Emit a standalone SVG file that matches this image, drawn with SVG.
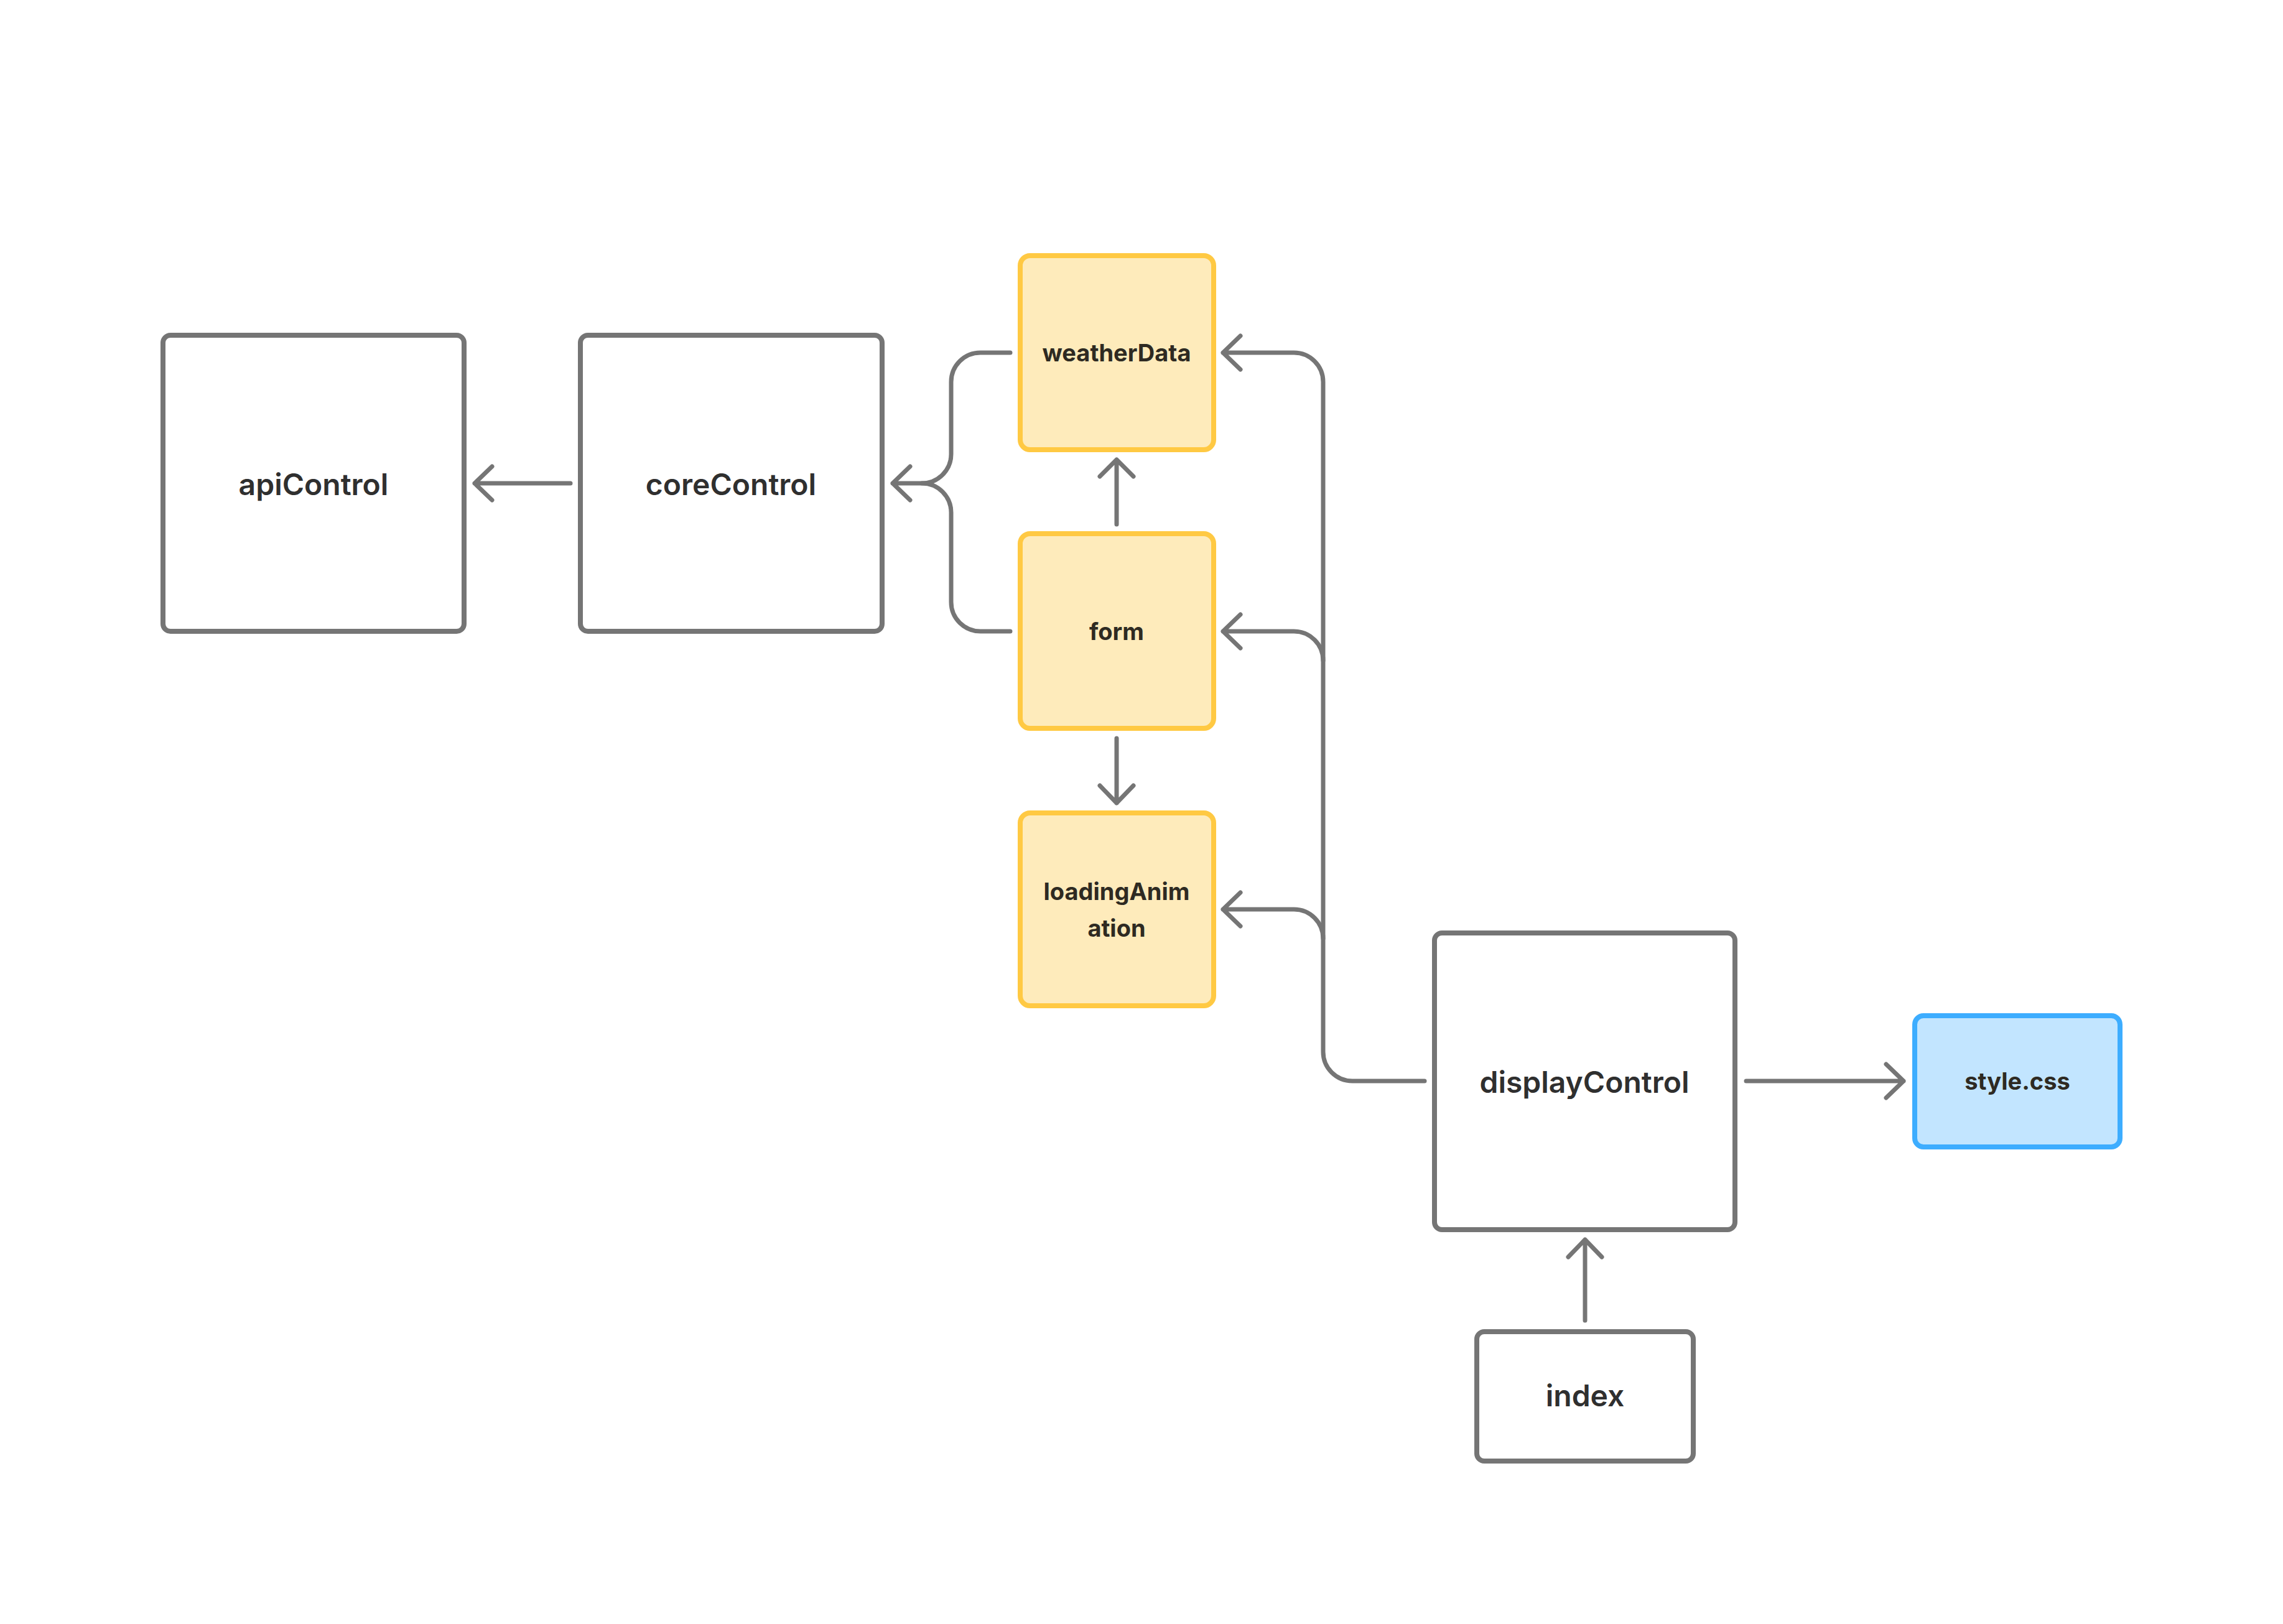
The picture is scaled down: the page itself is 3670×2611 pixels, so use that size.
<svg xmlns="http://www.w3.org/2000/svg" width="3670" height="2611" viewBox="0 0 3670 2611">
<style>
.box{fill:#ffffff;stroke:#757575;stroke-width:8}
.yel{fill:#feebbb;stroke:#ffc943;stroke-width:8}
.blu{fill:#c2e5ff;stroke:#3dadff;stroke-width:8}
.lbl{font-family:Inter,"Liberation Sans",sans-serif;font-weight:600;fill:#2f2f2f;text-anchor:middle}
.big{font-size:48px}
.sm{font-size:38px;font-weight:700;fill:#2e2a22}
.con path{fill:none;stroke:#757575;stroke-width:7;stroke-linecap:round;stroke-linejoin:round}
</style>
<rect x="0" y="0" width="3670" height="2611" fill="#ffffff"/>
<g id="apiControl"><rect class="box" x="262" y="539" width="484" height="476" rx="12"/><text class="lbl big" x="504" y="796">apiControl</text></g>
<g id="coreControl"><rect class="box" x="933" y="539" width="485" height="476" rx="12"/><text class="lbl big" x="1175" y="796">coreControl</text></g>
<g id="weatherData"><rect class="yel" x="1640" y="411" width="311" height="312" rx="16"/><text class="lbl sm" x="1795" y="581">weatherData</text></g>
<g id="form"><rect class="yel" x="1640" y="858" width="311" height="313" rx="16"/><text class="lbl sm" x="1795" y="1029">form</text></g>
<g id="loadingAnimation"><rect class="yel" x="1640" y="1307" width="311" height="310" rx="16"/><text class="lbl sm" x="1795" y="1447">loadingAnim</text><text class="lbl sm" x="1795" y="1506">ation</text></g>
<g id="displayControl"><rect class="box" x="2306" y="1500" width="483" height="477" rx="12"/><text class="lbl big" x="2547" y="1757">displayControl</text></g>
<g id="style.css"><rect class="blu" x="3078" y="1633" width="330" height="211" rx="14"/><text class="lbl sm" x="3243" y="1752">style.css</text></g>
<g id="index"><rect class="box" x="2374" y="2141" width="348" height="208" rx="12"/><text class="lbl big" x="2548" y="2261">index</text></g>
<g id="connectors" class="con">
<path d="M917 777 H763 M791 750 L763 777 L791 804"/>
<path d="M1624 567 H1576 A47 47 0 0 0 1529 614 V730 A47 47 0 0 1 1482 777 H1435 M1463 750 L1435 777 L1463 804"/>
<path d="M1624 1015 H1576 A47 47 0 0 1 1529 968 V824 A47 47 0 0 0 1482 777"/>
<path d="M1795 843 V739 M1768 766 L1795 739 L1822 766"/>
<path d="M1795 1187 V1291 M1768 1263 L1795 1291 L1822 1263"/>
<path d="M2290 1738 H2174 A47 47 0 0 1 2127 1691 V614 A47 47 0 0 0 2080 567 H1966 M1994 540 L1966 567 L1994 594"/>
<path d="M2127 1062 A47 47 0 0 0 2080 1015 H1966 M1994 988 L1966 1015 L1994 1042"/>
<path d="M2127 1509 A47 47 0 0 0 2080 1462 H1966 M1994 1435 L1966 1462 L1994 1489"/>
<path d="M2807 1738 H3060 M3032 1711 L3060 1738 L3032 1765"/>
<path d="M2548 2123 V1993 M2521 2021 L2548 1993 L2575 2021"/>
</g>
</svg>
